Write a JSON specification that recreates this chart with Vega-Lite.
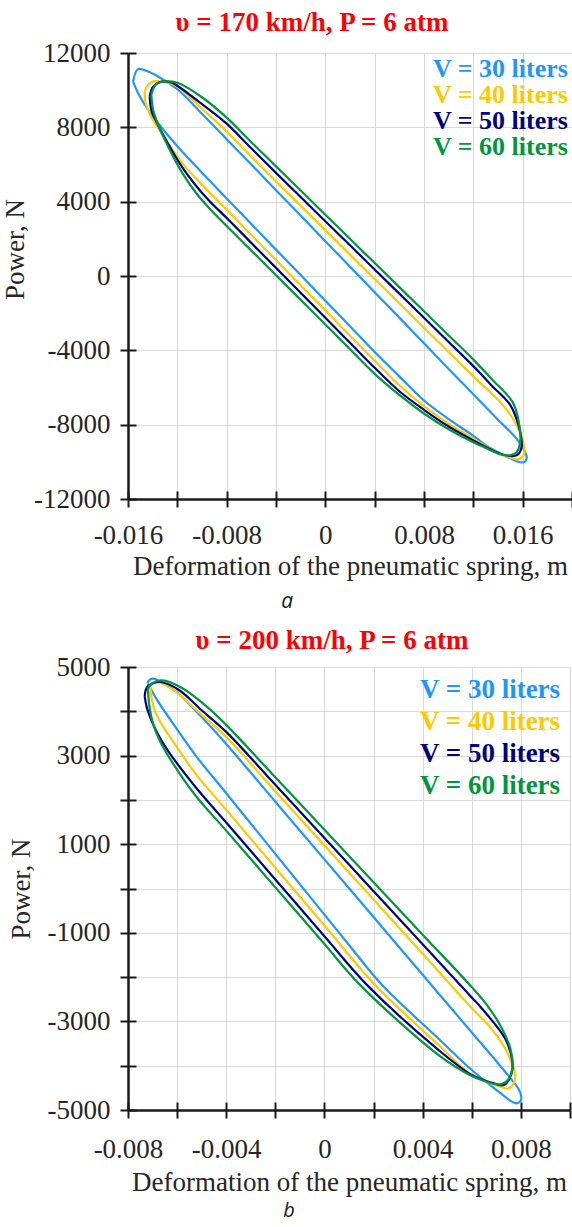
{
"$schema": "https://vega.github.io/schema/vega-lite/v6.json",
"padding": {"left": 1, "top": 9, "right": 0, "bottom": 0},
"background": "white",
"config": {
 "view": {"stroke": null},
 "axis": {"domainColor": "#1a1a1a", "domainWidth": 2.5, "tickColor": "#1a1a1a", "tickWidth": 2, "gridColor": "#d9d9d9", "gridWidth": 1, "labelFont": "Liberation Serif", "labelFontSize": 27, "labelColor": "#262626", "titleFont": "Liberation Serif", "titleFontSize": 27, "titleFontWeight": "normal", "titleColor": "#262626", "labelOverlap": false, "labelFlush": false},
 "title": {"font": "Liberation Serif", "fontSize": 27, "fontWeight": "bold", "color": "#FF0000"},
 "legend": {"orient": "top-right", "title": null, "symbolSize": 0, "symbolStrokeWidth": 0, "symbolOpacity": 0, "labelOffset": 0, "padding": 0, "labelFontSize": 27, "labelFont": "Liberation Serif", "labelFontWeight": "bold", "labelLimit": 400}
},
"datasets": {
"a": [
{"v":"30","i":0,"x":-0.01559,"y":10470},{"v":"30","i":1,"x":-0.01519,"y":11133},{"v":"30","i":2,"x":-0.01438,"y":11007},{"v":"30","i":3,"x":-0.01357,"y":10739},{"v":"30","i":4,"x":-0.012,"y":10050},{"v":"30","i":5,"x":-0.01,"y":8730},{"v":"30","i":6,"x":-0.008,"y":7360},{"v":"30","i":7,"x":-0.006,"y":6000},{"v":"30","i":8,"x":-0.004,"y":4620},{"v":"30","i":9,"x":-0.002,"y":3250},{"v":"30","i":10,"x":0,"y":1870},{"v":"30","i":11,"x":0.002,"y":500},{"v":"30","i":12,"x":0.004,"y":-870},{"v":"30","i":13,"x":0.006,"y":-2240},{"v":"30","i":14,"x":0.008,"y":-3620},{"v":"30","i":15,"x":0.01,"y":-5000},{"v":"30","i":16,"x":0.012,"y":-6360},{"v":"30","i":17,"x":0.014,"y":-7730},{"v":"30","i":18,"x":0.0155,"y":-8750},{"v":"30","i":19,"x":0.0161,"y":-9350},{"v":"30","i":20,"x":0.01633,"y":-9750},{"v":"30","i":21,"x":0.0162,"y":-9980},{"v":"30","i":22,"x":0.01592,"y":-10033},{"v":"30","i":23,"x":0.01524,"y":-9889},{"v":"30","i":24,"x":0.0142,"y":-9550},{"v":"30","i":25,"x":0.013,"y":-9100},{"v":"30","i":26,"x":0.012,"y":-8600},{"v":"30","i":27,"x":0.01,"y":-7700},{"v":"30","i":28,"x":0.008,"y":-6700},{"v":"30","i":29,"x":0.006,"y":-5400},{"v":"30","i":30,"x":0.004,"y":-4090},{"v":"30","i":31,"x":0.002,"y":-2700},{"v":"30","i":32,"x":0,"y":-1330},{"v":"30","i":33,"x":-0.002,"y":50},{"v":"30","i":34,"x":-0.004,"y":1420},{"v":"30","i":35,"x":-0.006,"y":2800},{"v":"30","i":36,"x":-0.008,"y":4170},{"v":"30","i":37,"x":-0.01,"y":5560},{"v":"30","i":38,"x":-0.012,"y":6980},{"v":"30","i":39,"x":-0.01357,"y":8233},{"v":"30","i":40,"x":-0.01438,"y":8949},{"v":"30","i":41,"x":-0.01519,"y":9844},{"v":"30","i":42,"x":-0.01559,"y":10470},
{"v":"40","i":0,"x":-0.01465,"y":9933},{"v":"40","i":1,"x":-0.0144,"y":10250},{"v":"40","i":2,"x":-0.01397,"y":10470},{"v":"40","i":3,"x":-0.01276,"y":10381},{"v":"40","i":4,"x":-0.012,"y":10200},{"v":"40","i":5,"x":-0.01,"y":9000},{"v":"40","i":6,"x":-0.008,"y":7780},{"v":"40","i":7,"x":-0.006,"y":6420},{"v":"40","i":8,"x":-0.004,"y":5090},{"v":"40","i":9,"x":-0.002,"y":3780},{"v":"40","i":10,"x":0,"y":2470},{"v":"40","i":11,"x":0.002,"y":1150},{"v":"40","i":12,"x":0.004,"y":-160},{"v":"40","i":13,"x":0.006,"y":-1470},{"v":"40","i":14,"x":0.008,"y":-2780},{"v":"40","i":15,"x":0.01,"y":-4090},{"v":"40","i":16,"x":0.012,"y":-5400},{"v":"40","i":17,"x":0.0144,"y":-6950},{"v":"40","i":18,"x":0.0155,"y":-8000},{"v":"40","i":19,"x":0.016,"y":-8800},{"v":"40","i":20,"x":0.01614,"y":-9260},{"v":"40","i":21,"x":0.0161,"y":-9600},{"v":"40","i":22,"x":0.01565,"y":-9853},{"v":"40","i":23,"x":0.0147,"y":-9709},{"v":"40","i":24,"x":0.0135,"y":-9350},{"v":"40","i":25,"x":0.012,"y":-8750},{"v":"40","i":26,"x":0.01,"y":-7950},{"v":"40","i":27,"x":0.008,"y":-7000},{"v":"40","i":28,"x":0.006,"y":-5880},{"v":"40","i":29,"x":0.004,"y":-4560},{"v":"40","i":30,"x":0.002,"y":-3210},{"v":"40","i":31,"x":0,"y":-1855},{"v":"40","i":32,"x":-0.002,"y":-500},{"v":"40","i":33,"x":-0.004,"y":854},{"v":"40","i":34,"x":-0.006,"y":2210},{"v":"40","i":35,"x":-0.008,"y":3562},{"v":"40","i":36,"x":-0.01016,"y":5025},{"v":"40","i":37,"x":-0.0112,"y":5750},{"v":"40","i":38,"x":-0.0124,"y":6800},{"v":"40","i":39,"x":-0.0136,"y":8000},{"v":"40","i":40,"x":-0.01424,"y":8720},{"v":"40","i":41,"x":-0.01457,"y":9307},{"v":"40","i":42,"x":-0.01465,"y":9933},
{"v":"50","i":0,"x":-0.01424,"y":9665},{"v":"50","i":1,"x":-0.014,"y":10150},{"v":"50","i":2,"x":-0.01343,"y":10434},{"v":"50","i":3,"x":-0.0125,"y":10420},{"v":"50","i":4,"x":-0.012,"y":10237},{"v":"50","i":5,"x":-0.01,"y":9250},{"v":"50","i":6,"x":-0.008,"y":8200},{"v":"50","i":7,"x":-0.006,"y":6870},{"v":"50","i":8,"x":-0.004,"y":5550},{"v":"50","i":9,"x":-0.002,"y":4250},{"v":"50","i":10,"x":0,"y":2950},{"v":"50","i":11,"x":0.002,"y":1650},{"v":"50","i":12,"x":0.004,"y":350},{"v":"50","i":13,"x":0.006,"y":-950},{"v":"50","i":14,"x":0.008,"y":-2250},{"v":"50","i":15,"x":0.01,"y":-3550},{"v":"50","i":16,"x":0.012,"y":-4850},{"v":"50","i":17,"x":0.0135,"y":-5900},{"v":"50","i":18,"x":0.015,"y":-6950},{"v":"50","i":19,"x":0.01565,"y":-8000},{"v":"50","i":20,"x":0.0159,"y":-8800},{"v":"50","i":21,"x":0.01592,"y":-9170},{"v":"50","i":22,"x":0.0157,"y":-9550},{"v":"50","i":23,"x":0.01538,"y":-9673},{"v":"50","i":24,"x":0.01443,"y":-9619},{"v":"50","i":25,"x":0.013,"y":-9200},{"v":"50","i":26,"x":0.012,"y":-8850},{"v":"50","i":27,"x":0.01,"y":-8100},{"v":"50","i":28,"x":0.008,"y":-7200},{"v":"50","i":29,"x":0.006,"y":-6200},{"v":"50","i":30,"x":0.004,"y":-4939},{"v":"50","i":31,"x":0.002,"y":-3595},{"v":"50","i":32,"x":0,"y":-2251},{"v":"50","i":33,"x":-0.002,"y":-907},{"v":"50","i":34,"x":-0.004,"y":437},{"v":"50","i":35,"x":-0.006,"y":1781},{"v":"50","i":36,"x":-0.008,"y":3125},{"v":"50","i":37,"x":-0.0094,"y":4030},{"v":"50","i":38,"x":-0.0106,"y":4950},{"v":"50","i":39,"x":-0.0118,"y":6050},{"v":"50","i":40,"x":-0.0129,"y":7300},{"v":"50","i":41,"x":-0.0137,"y":8300},{"v":"50","i":42,"x":-0.01411,"y":8950},{"v":"50","i":43,"x":-0.01424,"y":9665},
{"v":"60","i":0,"x":-0.01411,"y":9754},{"v":"60","i":1,"x":-0.0139,"y":10150},{"v":"60","i":2,"x":-0.0136,"y":10380},{"v":"60","i":3,"x":-0.01303,"y":10470},{"v":"60","i":4,"x":-0.012,"y":10400},{"v":"60","i":5,"x":-0.01,"y":9620},{"v":"60","i":6,"x":-0.008,"y":8520},{"v":"60","i":7,"x":-0.006,"y":7200},{"v":"60","i":8,"x":-0.004,"y":5900},{"v":"60","i":9,"x":-0.002,"y":4600},{"v":"60","i":10,"x":0,"y":3300},{"v":"60","i":11,"x":0.002,"y":2000},{"v":"60","i":12,"x":0.004,"y":700},{"v":"60","i":13,"x":0.006,"y":-600},{"v":"60","i":14,"x":0.008,"y":-1900},{"v":"60","i":15,"x":0.01,"y":-3200},{"v":"60","i":16,"x":0.012,"y":-4500},{"v":"60","i":17,"x":0.0135,"y":-5550},{"v":"60","i":18,"x":0.0152,"y":-6800},{"v":"60","i":19,"x":0.0157,"y":-7900},{"v":"60","i":20,"x":0.0158,"y":-8900},{"v":"60","i":21,"x":0.0155,"y":-9500},{"v":"60","i":22,"x":0.01497,"y":-9655},{"v":"60","i":23,"x":0.01416,"y":-9583},{"v":"60","i":24,"x":0.013,"y":-9250},{"v":"60","i":25,"x":0.012,"y":-8950},{"v":"60","i":26,"x":0.01,"y":-8250},{"v":"60","i":27,"x":0.008,"y":-7400},{"v":"60","i":28,"x":0.006,"y":-6400},{"v":"60","i":29,"x":0.004,"y":-5264},{"v":"60","i":30,"x":0.002,"y":-3938},{"v":"60","i":31,"x":0,"y":-2612},{"v":"60","i":32,"x":-0.002,"y":-1286},{"v":"60","i":33,"x":-0.004,"y":40},{"v":"60","i":34,"x":-0.006,"y":1366},{"v":"60","i":35,"x":-0.008,"y":2692},{"v":"60","i":36,"x":-0.0092,"y":3500},{"v":"60","i":37,"x":-0.0104,"y":4400},{"v":"60","i":38,"x":-0.0116,"y":5550},{"v":"60","i":39,"x":-0.0127,"y":6900},{"v":"60","i":40,"x":-0.0135,"y":8050},{"v":"60","i":41,"x":-0.01395,"y":8900},{"v":"60","i":42,"x":-0.01411,"y":9754}
],
"b": [
{"v":"30","i":0,"x":-0.00721,"y":4640},{"v":"30","i":1,"x":-0.00712,"y":4710},{"v":"30","i":2,"x":-0.00696,"y":4736},{"v":"30","i":3,"x":-0.00675,"y":4691},{"v":"30","i":4,"x":-0.00601,"y":4435},{"v":"30","i":5,"x":-0.005,"y":3870},{"v":"30","i":6,"x":-0.004,"y":3262},{"v":"30","i":7,"x":-0.002,"y":1960},{"v":"30","i":8,"x":0,"y":658},{"v":"30","i":9,"x":0.002,"y":-644},{"v":"30","i":10,"x":0.004,"y":-1947},{"v":"30","i":11,"x":0.006,"y":-3249},{"v":"30","i":12,"x":0.007,"y":-3900},{"v":"30","i":13,"x":0.00791,"y":-4530},{"v":"30","i":14,"x":0.00801,"y":-4677},{"v":"30","i":15,"x":0.008,"y":-4780},{"v":"30","i":16,"x":0.00784,"y":-4851},{"v":"30","i":17,"x":0.0076,"y":-4800},{"v":"30","i":18,"x":0.0074,"y":-4720},{"v":"30","i":19,"x":0.00709,"y":-4587},{"v":"30","i":20,"x":0.006,"y":-4098},{"v":"30","i":21,"x":0.00465,"y":-3392},{"v":"30","i":22,"x":0.00235,"y":-2181},{"v":"30","i":23,"x":0.001,"y":-1274},{"v":"30","i":24,"x":0,"y":-589},{"v":"30","i":25,"x":-0.002,"y":781},{"v":"30","i":26,"x":-0.004,"y":2151},{"v":"30","i":27,"x":-0.00526,"y":3012},{"v":"30","i":28,"x":-0.006,"y":3590},{"v":"30","i":29,"x":-0.0068,"y":4240},{"v":"30","i":30,"x":-0.0071,"y":4530},{"v":"30","i":31,"x":-0.00721,"y":4640},
{"v":"40","i":0,"x":-0.00709,"y":4563},{"v":"40","i":1,"x":-0.007,"y":4630},{"v":"40","i":2,"x":-0.00682,"y":4661},{"v":"40","i":3,"x":-0.0065,"y":4600},{"v":"40","i":4,"x":-0.00607,"y":4450},{"v":"40","i":5,"x":-0.005,"y":3922},{"v":"40","i":6,"x":-0.004,"y":3421},{"v":"40","i":7,"x":-0.002,"y":2197},{"v":"40","i":8,"x":0,"y":973},{"v":"40","i":9,"x":0.002,"y":-251},{"v":"40","i":10,"x":0.004,"y":-1475},{"v":"40","i":11,"x":0.006,"y":-2699},{"v":"40","i":12,"x":0.00675,"y":-3130},{"v":"40","i":13,"x":0.00736,"y":-3610},{"v":"40","i":14,"x":0.0076,"y":-3900},{"v":"40","i":15,"x":0.00777,"y":-4211},{"v":"40","i":16,"x":0.0077,"y":-4400},{"v":"40","i":17,"x":0.0075,"y":-4512},{"v":"40","i":18,"x":0.00696,"y":-4437},{"v":"40","i":19,"x":0.006,"y":-4211},{"v":"40","i":20,"x":0.00465,"y":-3534},{"v":"40","i":21,"x":0.00207,"y":-2181},{"v":"40","i":22,"x":0,"y":-836},{"v":"40","i":23,"x":-0.002,"y":470},{"v":"40","i":24,"x":-0.004,"y":1776},{"v":"40","i":25,"x":-0.00526,"y":2599},{"v":"40","i":26,"x":-0.00621,"y":3356},{"v":"40","i":27,"x":-0.00662,"y":3700},{"v":"40","i":28,"x":-0.0069,"y":4000},{"v":"40","i":29,"x":-0.00704,"y":4300},{"v":"40","i":30,"x":-0.00709,"y":4563},
{"v":"50","i":0,"x":-0.00732,"y":4336},{"v":"50","i":1,"x":-0.00728,"y":4480},{"v":"50","i":2,"x":-0.00719,"y":4563},{"v":"50","i":3,"x":-0.00695,"y":4640},{"v":"50","i":4,"x":-0.00668,"y":4661},{"v":"50","i":5,"x":-0.00594,"y":4487},{"v":"50","i":6,"x":-0.005,"y":4023},{"v":"50","i":7,"x":-0.004,"y":3535},{"v":"50","i":8,"x":-0.002,"y":2340},{"v":"50","i":9,"x":0,"y":1140},{"v":"50","i":10,"x":0.002,"y":-60},{"v":"50","i":11,"x":0.004,"y":-1260},{"v":"50","i":12,"x":0.006,"y":-2460},{"v":"50","i":13,"x":0.00641,"y":-2707},{"v":"50","i":14,"x":0.00736,"y":-3384},{"v":"50","i":15,"x":0.0076,"y":-3750},{"v":"50","i":16,"x":0.00766,"y":-4061},{"v":"50","i":17,"x":0.0075,"y":-4330},{"v":"50","i":18,"x":0.0073,"y":-4437},{"v":"50","i":19,"x":0.00669,"y":-4362},{"v":"50","i":20,"x":0.006,"y":-4211},{"v":"50","i":21,"x":0.00465,"y":-3647},{"v":"50","i":22,"x":0.00174,"y":-2181},{"v":"50","i":23,"x":0,"y":-1079},{"v":"50","i":24,"x":-0.002,"y":205},{"v":"50","i":25,"x":-0.004,"y":1489},{"v":"50","i":26,"x":-0.00526,"y":2297},{"v":"50","i":27,"x":-0.00635,"y":3092},{"v":"50","i":28,"x":-0.00678,"y":3480},{"v":"50","i":29,"x":-0.00705,"y":3800},{"v":"50","i":30,"x":-0.00724,"y":4100},{"v":"50","i":31,"x":-0.00732,"y":4336},
{"v":"60","i":0,"x":-0.00719,"y":4525},{"v":"60","i":1,"x":-0.007,"y":4640},{"v":"60","i":2,"x":-0.00662,"y":4698},{"v":"60","i":3,"x":-0.0058,"y":4525},{"v":"60","i":4,"x":-0.00472,"y":4073},{"v":"60","i":5,"x":-0.004,"y":3694},{"v":"60","i":6,"x":-0.002,"y":2510},{"v":"60","i":7,"x":0,"y":1326},{"v":"60","i":8,"x":0.002,"y":142},{"v":"60","i":9,"x":0.004,"y":-1042},{"v":"60","i":10,"x":0.006,"y":-2226},{"v":"60","i":11,"x":0.00662,"y":-2632},{"v":"60","i":12,"x":0.00723,"y":-3158},{"v":"60","i":13,"x":0.00757,"y":-3610},{"v":"60","i":14,"x":0.00766,"y":-3986},{"v":"60","i":15,"x":0.0075,"y":-4300},{"v":"60","i":16,"x":0.00716,"y":-4422},{"v":"60","i":17,"x":0.00641,"y":-4324},{"v":"60","i":18,"x":0.006,"y":-4234},{"v":"60","i":19,"x":0.00465,"y":-3760},{"v":"60","i":20,"x":0.00146,"y":-2181},{"v":"60","i":21,"x":0,"y":-1254},{"v":"60","i":22,"x":-0.002,"y":26},{"v":"60","i":23,"x":-0.004,"y":1306},{"v":"60","i":24,"x":-0.00526,"y":2105},{"v":"60","i":25,"x":-0.00628,"y":2920},{"v":"60","i":26,"x":-0.0067,"y":3330},{"v":"60","i":27,"x":-0.00698,"y":3720},{"v":"60","i":28,"x":-0.00713,"y":4120},{"v":"60","i":29,"x":-0.00719,"y":4525}
]
},
"concat": [
 {"title": {"text": "a", "orient": "bottom", "font": "Open Sans", "fontStyle": "italic", "fontWeight": "normal", "fontSize": 21, "color": "#1a1a1a", "anchor": "middle", "frame": "bounds", "offset": 12},
  "resolve": {"legend": {"color": "independent"}, "scale": {"color": "independent"}},
  "vconcat": [{
   "title": {"text": "υ = 170 km/h, P = 6 atm", "anchor": "middle", "frame": "group", "dx": -38, "offset": 2},
   "width": 444, "height": 446,
   "data": {"name": "a"},
   "layer": [
    {"mark": {"type": "line", "strokeWidth": 2.2, "interpolate": "catmull-rom"},
     "encoding": {
      "x": {"field": "x", "type": "quantitative", "scale": {"domain": [-0.016, 0.02], "nice": false, "zero": false},
        "axis": {"values": [-0.016,-0.012,-0.008,-0.004,0,0.004,0.008,0.012,0.016,0.02], "labelExpr": "indexof([-0.016,-0.008,0.008,0.016], datum.value) >= 0 ? (datum.value < 0 ? '-' : '') + format(abs(datum.value), '.3f') : (datum.value == 0 ? '0' : '')", "title": "Deformation of the pneumatic spring, m", "tickSize": 8, "labelPadding": 15, "titlePadding": 5, "grid": true}},
      "y": {"field": "y", "type": "quantitative", "scale": {"domain": [-12000, 12000], "nice": false},
        "axis": {"values": [-12000,-8000,-4000,0,4000,8000,12000], "labelExpr": "(datum.value < 0 ? '-' : '') + format(abs(datum.value), 'd')", "title": "Power, N", "titleY": 196, "tickSize": 8, "labelPadding": 10, "titlePadding": 4, "grid": true}},
      "color": {"field": "v", "type": "nominal", "scale": {"domain": ["30","40","50","60"], "range": ["#1E96FF","#FFC800","#000080","#00963C"]},
        "legend": {"orient": "top-right", "labelExpr": "'V = ' + datum.label + ' liters'", "labelColor": {"expr": "datum.value == '30' ? '#1E96FF' : datum.value == '40' ? '#FFC800' : datum.value == '50' ? '#000080' : '#00963C'"}, "labelFontSize": 26, "rowPadding": 0, "offset": 3}},
      "order": {"field": "i", "type": "quantitative"}
     }},
    {"mark": {"type": "point", "opacity": 0},
     "encoding": {
      "x": {"field": "x", "type": "quantitative", "axis": {"orient": "bottom", "values": [-0.016,-0.012,-0.008,-0.004,0,0.004,0.008,0.012,0.016,0.02], "tickSize": -8, "labels": false, "domain": false, "grid": false, "title": null}},
      "y": {"field": "y", "type": "quantitative", "axis": {"orient": "left", "values": [-12000,-8000,-4000,0,4000,8000,12000], "tickSize": -8, "labels": false, "domain": false, "grid": false, "title": null}}
     }}
   ],
   "resolve": {"axis": {"x": "independent", "y": "independent"}}
  }]
 },
 {"title": {"text": "b", "orient": "bottom", "font": "Open Sans", "fontStyle": "italic", "fontWeight": "normal", "fontSize": 20, "color": "#1a1a1a", "anchor": "middle", "frame": "bounds", "offset": 6},
  "resolve": {"legend": {"color": "independent"}, "scale": {"color": "independent"}},
  "vconcat": [{
   "title": {"text": "υ = 200 km/h, P = 6 atm", "anchor": "middle", "frame": "group", "dx": -17, "offset": -2},
   "width": 442, "height": 443,
   "data": {"name": "b"},
   "layer": [
    {"mark": {"type": "line", "strokeWidth": 2.2, "interpolate": "catmull-rom"},
     "encoding": {
      "x": {"field": "x", "type": "quantitative", "scale": {"domain": [-0.008, 0.01], "nice": false, "zero": false},
        "axis": {"values": [-0.008,-0.006,-0.004,-0.002,0,0.002,0.004,0.006,0.008,0.01], "labelExpr": "indexof([-0.008,-0.004,0.004,0.008], datum.value) >= 0 ? (datum.value < 0 ? '-' : '') + format(abs(datum.value), '.3f') : (datum.value == 0 ? '0' : '')", "title": "Deformation of the pneumatic spring, m", "tickSize": 8, "labelPadding": 18, "titlePadding": 7, "grid": true}},
      "y": {"field": "y", "type": "quantitative", "scale": {"domain": [-5000, 5000], "nice": false},
        "axis": {"values": [-5000,-4000,-3000,-2000,-1000,0,1000,2000,3000,4000,5000], "labelExpr": "abs(datum.value) % 2000 == 1000 ? (datum.value < 0 ? '-' : '') + format(abs(datum.value), 'd') : ''", "title": "Power, N", "tickSize": 8, "labelPadding": 10, "titlePadding": 12, "grid": true}},
      "color": {"field": "v", "type": "nominal", "scale": {"domain": ["30","40","50","60"], "range": ["#1E96FF","#FFC800","#000080","#00963C"]},
        "legend": {"orient": "top-right", "labelExpr": "'V = ' + datum.label + ' liters'", "labelColor": {"expr": "datum.value == '30' ? '#1E96FF' : datum.value == '40' ? '#FFC800' : datum.value == '50' ? '#000080' : '#00963C'"}, "rowPadding": 4, "offset": 9}},
      "order": {"field": "i", "type": "quantitative"}
     }},
    {"mark": {"type": "point", "opacity": 0},
     "encoding": {
      "x": {"field": "x", "type": "quantitative", "axis": {"orient": "bottom", "values": [-0.008,-0.006,-0.004,-0.002,0,0.002,0.004,0.006,0.008,0.01], "tickSize": -8, "labels": false, "domain": false, "grid": false, "title": null}},
      "y": {"field": "y", "type": "quantitative", "axis": {"orient": "left", "values": [-5000,-4000,-3000,-2000,-1000,0,1000,2000,3000,4000,5000], "tickSize": -8, "labels": false, "domain": false, "grid": false, "title": null}}
     }}
   ],
   "resolve": {"axis": {"x": "independent", "y": "independent"}}
  }]
 }
],
"resolve": {"legend": {"color": "independent"}, "scale": {"color": "independent"}},
"columns": 1,
"spacing": 15
}
